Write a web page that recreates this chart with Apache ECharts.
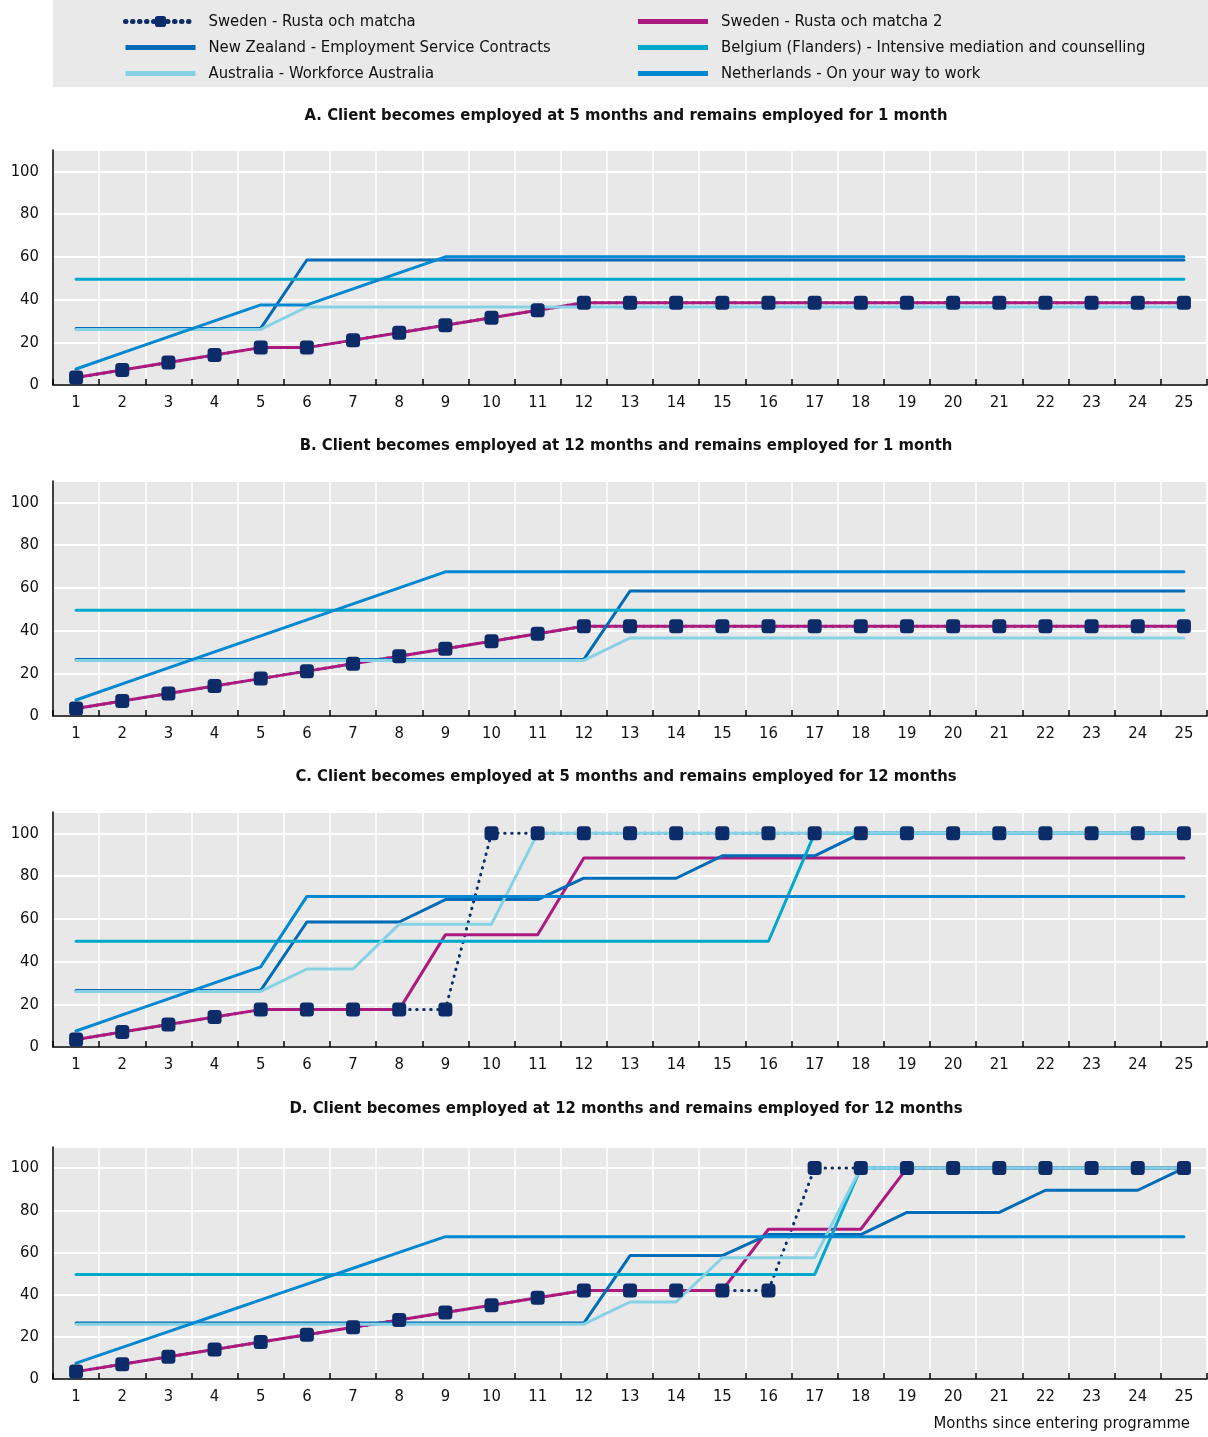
<!DOCTYPE html>
<html><head><meta charset="utf-8">
<script src="https://cdn.jsdelivr.net/npm/echarts@6/dist/echarts.min.js"></script>
<style>html,body{margin:0;padding:0;background:#fff}#c{width:1208px;height:1437px}</style>
</head><body><div id="c"></div>
<script>
// ---------- DATA ----------
const months = ['1','2','3','4','5','6','7','8','9','10','11','12','13','14','15','16','17','18','19','20','21','22','23','24','25'];
const seriesNames = ['Sweden - Rusta och matcha','Sweden - Rusta och matcha 2','New Zealand - Employment Service Contracts','Belgium (Flanders) - Intensive mediation and counselling','Australia - Workforce Australia','Netherlands - On your way to work'];
const panelTitles = [
  'A. Client becomes employed at 5 months and remains employed for 1 month',
  'B. Client becomes employed at 12 months and remains employed for 1 month',
  'C. Client becomes employed at 5 months and remains employed for 12 months',
  'D. Client becomes employed at 12 months and remains employed for 12 months'
];
const xAxisName = 'Months since entering programme';

// Panel A
const swedenA      = [3.5,7,10.5,14,17.5,17.5,21,24.5,28,31.5,35,38.5,38.5,38.5,38.5,38.5,38.5,38.5,38.5,38.5,38.5,38.5,38.5,38.5,38.5];
const sweden2A     = [3.5,7,10.5,14,17.5,17.5,21,24.5,28,31.5,35,38.5,38.5,38.5,38.5,38.5,38.5,38.5,38.5,38.5,38.5,38.5,38.5,38.5,38.5];
const nzA          = [26.5,26.5,26.5,26.5,26.5,58.5,58.5,58.5,58.5,58.5,58.5,58.5,58.5,58.5,58.5,58.5,58.5,58.5,58.5,58.5,58.5,58.5,58.5,58.5,58.5];
const belgiumA     = [49.5,49.5,49.5,49.5,49.5,49.5,49.5,49.5,49.5,49.5,49.5,49.5,49.5,49.5,49.5,49.5,49.5,49.5,49.5,49.5,49.5,49.5,49.5,49.5,49.5];
const australiaA   = [26,26,26,26,26,36.5,36.5,36.5,36.5,36.5,36.5,36.5,36.5,36.5,36.5,36.5,36.5,36.5,36.5,36.5,36.5,36.5,36.5,36.5,36.5];
const netherlandsA = [7.5,15,22.5,30,37.5,37.5,45,52.5,60,60,60,60,60,60,60,60,60,60,60,60,60,60,60,60,60];

// Panel B
const swedenB      = [3.5,7,10.5,14,17.5,21,24.5,28,31.5,35,38.5,42,42,42,42,42,42,42,42,42,42,42,42,42,42];
const sweden2B     = [3.5,7,10.5,14,17.5,21,24.5,28,31.5,35,38.5,42,42,42,42,42,42,42,42,42,42,42,42,42,42];
const nzB          = [26.5,26.5,26.5,26.5,26.5,26.5,26.5,26.5,26.5,26.5,26.5,26.5,58.5,58.5,58.5,58.5,58.5,58.5,58.5,58.5,58.5,58.5,58.5,58.5,58.5];
const belgiumB     = [49.5,49.5,49.5,49.5,49.5,49.5,49.5,49.5,49.5,49.5,49.5,49.5,49.5,49.5,49.5,49.5,49.5,49.5,49.5,49.5,49.5,49.5,49.5,49.5,49.5];
const australiaB   = [26,26,26,26,26,26,26,26,26,26,26,26,36.5,36.5,36.5,36.5,36.5,36.5,36.5,36.5,36.5,36.5,36.5,36.5,36.5];
const netherlandsB = [7.5,15,22.5,30,37.5,45,52.5,60,67.5,67.5,67.5,67.5,67.5,67.5,67.5,67.5,67.5,67.5,67.5,67.5,67.5,67.5,67.5,67.5,67.5];

// Panel C
const swedenC      = [3.5,7,10.5,14,17.5,17.5,17.5,17.5,17.5,100,100,100,100,100,100,100,100,100,100,100,100,100,100,100,100];
const sweden2C     = [3.5,7,10.5,14,17.5,17.5,17.5,17.5,52.5,52.5,52.5,88.5,88.5,88.5,88.5,88.5,88.5,88.5,88.5,88.5,88.5,88.5,88.5,88.5,88.5];
const nzC          = [26.5,26.5,26.5,26.5,26.5,58.5,58.5,58.5,69,69,69,79,79,79,89.5,89.5,89.5,100,100,100,100,100,100,100,100];
const belgiumC     = [49.5,49.5,49.5,49.5,49.5,49.5,49.5,49.5,49.5,49.5,49.5,49.5,49.5,49.5,49.5,49.5,100,100,100,100,100,100,100,100,100];
const australiaC   = [26,26,26,26,26,36.5,36.5,57.5,57.5,57.5,100,100,100,100,100,100,100,100,100,100,100,100,100,100,100];
const netherlandsC = [7.5,15,22.5,30,37.5,70.5,70.5,70.5,70.5,70.5,70.5,70.5,70.5,70.5,70.5,70.5,70.5,70.5,70.5,70.5,70.5,70.5,70.5,70.5,70.5];

// Panel D
const swedenD      = [3.5,7,10.5,14,17.5,21,24.5,28,31.5,35,38.5,42,42,42,42,42,100,100,100,100,100,100,100,100,100];
const sweden2D     = [3.5,7,10.5,14,17.5,21,24.5,28,31.5,35,38.5,42,42,42,42,71,71,71,100,100,100,100,100,100,100];
const nzD          = [26.5,26.5,26.5,26.5,26.5,26.5,26.5,26.5,26.5,26.5,26.5,26.5,58.5,58.5,58.5,68.5,68.5,68.5,79,79,79,89.5,89.5,89.5,100];
const belgiumD     = [49.5,49.5,49.5,49.5,49.5,49.5,49.5,49.5,49.5,49.5,49.5,49.5,49.5,49.5,49.5,49.5,49.5,100,100,100,100,100,100,100,100];
const australiaD   = [26,26,26,26,26,26,26,26,26,26,26,26,36.5,36.5,57.5,57.5,57.5,100,100,100,100,100,100,100,100];
const netherlandsD = [7.5,15,22.5,30,37.5,45,52.5,60,67.5,67.5,67.5,67.5,67.5,67.5,67.5,67.5,67.5,67.5,67.5,67.5,67.5,67.5,67.5,67.5,67.5];

const panels = [
  [swedenA, sweden2A, nzA, belgiumA, australiaA, netherlandsA],
  [swedenB, sweden2B, nzB, belgiumB, australiaB, netherlandsB],
  [swedenC, sweden2C, nzC, belgiumC, australiaC, netherlandsC],
  [swedenD, sweden2D, nzD, belgiumD, australiaD, netherlandsD]
];

// ---------- STYLE ----------
const FONT = "'Liberation Sans Narrow', 'DejaVu Sans Condensed', 'Liberation Sans', sans-serif";
const FS = 16.5;
const colors = ['#0b2c68', '#ad1a7f', '#006bb6', '#00a8cc', '#86d1e4', '#0288d1'];
const gridTops = [150, 481, 812, 1147];
const gridHeights = [235, 235, 235, 232];
const titleYs = [116, 446, 777, 1109];
const lineIcon = 'path://M0,0H70V5H0Z';

const grids = [], xAxes = [], yAxes = [], series = [], graphics = [];

graphics.push({ type: 'rect', shape: { x: 53, y: 0, width: 1155, height: 87 }, style: { fill: '#e9e9e9' }, z: -10 });

gridTops.forEach((top, i) => {
  grids.push({ left: 53, width: 1154, top: top, height: gridHeights[i], show: true, backgroundColor: '#e8e8e8', borderWidth: 0 });
  xAxes.push({
    type: 'category', gridIndex: i, data: months, boundaryGap: true,
    axisLine: { show: true, lineStyle: { color: '#000', width: 1.5 } },
    axisTick: { show: true, inside: true, length: 6, lineStyle: { color: '#000', width: 1.5 } },
    axisLabel: { fontFamily: FONT, fontSize: FS, color: '#111', margin: 9 },
    splitLine: { show: true, lineStyle: { color: '#ffffff', width: 1.5 } }
  });
  yAxes.push({
    type: 'value', gridIndex: i, min: 0, max: 110, interval: 20,
    axisLine: { show: true, lineStyle: { color: '#000', width: 1.5 } },
    axisTick: { show: false },
    axisLabel: { fontFamily: FONT, fontSize: FS, color: '#111', margin: 14, showMaxLabel: false },
    splitLine: { show: true, lineStyle: { color: '#ffffff', width: 2 } }
  });
  graphics.push({ type: 'text', x: 626, y: titleYs[i], style: { text: panelTitles[i], font: 'bold ' + FS + 'px ' + FONT, fill: '#111', textAlign: 'center', textVerticalAlign: 'middle' } });

  panels[i].forEach((vals, k) => {
    const s = {
      name: seriesNames[k], type: 'line', xAxisIndex: i, yAxisIndex: i,
      data: vals, animation: false, color: colors[k],
      lineStyle: { color: colors[k], width: 3 },
      emphasis: { disabled: true }
    };
    if (k === 0) {
      s.symbol = 'roundRect'; s.symbolSize = 14; s.showSymbol = true;
      s.itemStyle = { color: colors[0] };
      s.lineStyle = { color: colors[0], width: 3, type: [0.5, 6.5], cap: 'round' };
    } else {
      s.symbol = 'none';
      s.lineStyle.cap = 'round';
    }
    series.push(s);
  });
});

graphics.push({ type: 'text', x: 1190, y: 1424, style: { text: xAxisName, font: FS + 'px ' + FONT, fill: '#111', textAlign: 'right', textVerticalAlign: 'middle' } });

const legendBase = {
  orient: 'vertical', top: 8, itemWidth: 70, itemHeight: 14, itemGap: 9,
  textStyle: { fontFamily: FONT, fontSize: FS, color: '#111', lineHeight: 16, padding: [0, 0, 0, 8] },
  lineStyle: { width: 5 },
  selectedMode: false
};
function legendItem(k) {
  return k === 0 ? { name: seriesNames[k] } : { name: seriesNames[k], icon: lineIcon };
}

const option = {
  animation: false,
  backgroundColor: '#ffffff',
  legend: [
    Object.assign({}, legendBase, { left: 118, data: [legendItem(0), legendItem(2), legendItem(4)] }),
    Object.assign({}, legendBase, { left: 633, data: [legendItem(1), legendItem(3), legendItem(5)] })
  ],
  grid: grids, xAxis: xAxes, yAxis: yAxes, series: series,
  graphic: graphics
};

const chart = echarts.init(document.getElementById('c'), null, { renderer: 'canvas' });
chart.setOption(option);
</script></body></html>
